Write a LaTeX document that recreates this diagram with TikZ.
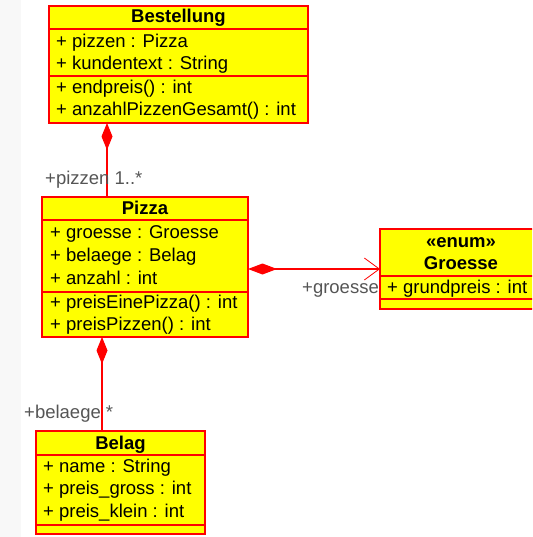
\documentclass[tikz,border=0pt]{standalone}
\usepackage{fontspec}
\setmainfont{Liberation Sans}
\usetikzlibrary{arrows.meta}
\definecolor{umlred}{RGB}{255,0,0}
\definecolor{umlyel}{RGB}{255,255,0}
\definecolor{lbl}{RGB}{85,85,85}
\definecolor{band}{RGB}{248,248,248}
\begin{document}
\begin{tikzpicture}[x=1pt,y=-1pt,
 cls/.style={draw=umlred, fill=umlyel, line width=1.2pt, inner sep=0pt, outer sep=0pt, anchor=north west},
 div/.style={draw=umlred, line width=1.2pt},
 txt/.style={anchor=base west, inner sep=0pt, font=\fontsize{18.5}{22}\selectfont},
 ttl/.style={anchor=base, inner sep=0pt, font=\fontsize{18.5}{22}\selectfont\bfseries},
 lab/.style={anchor=base west, inner sep=0pt, text=lbl, font=\fontsize{18.5}{22}\selectfont},
 conn/.style={draw=umlred, line width=1.2pt},
]
\useasboundingbox (0,0) rectangle (532,537);
\clip (0,0) rectangle (532,537);
\fill[band] (0,0) rectangle (21,537);

% Bestellung
\node[cls, minimum width=259pt, minimum height=117pt] (best) at (49,6) {};
\draw[div] (49,29) -- (308,29);
\draw[div] (49,76) -- (308,76);
\node[ttl] (bt) at (178.5,23) {Bestellung};
\node[txt] (b1) at (56,48) {+ pizzen : Pizza};
\node[txt] (b2) at (56,70) {+ kundentext : String};
\node[txt] (b3) at (56,94) {+ endpreis() : int};
\node[txt] (b4) at (56,116) {+ anzahlPizzenGesamt() : int};

% Pizza
\node[cls, minimum width=206pt, minimum height=140pt] (pizza) at (42,197) {};
\draw[div] (42,220) -- (248,220);
\draw[div] (42,292) -- (248,292);
\node[ttl] (pt) at (145,214) {Pizza};
\node[txt] (p1) at (50,238) {+ groesse : Groesse};
\node[txt] (p2) at (50,261) {+ belaege : Belag};
\node[txt] (p3) at (50,284) {+ anzahl : int};
\node[txt] (p4) at (50,308) {+ preisEinePizza() : int};
\node[txt] (p5) at (50,330) {+ preisPizzen() : int};

% Groesse
\node[cls, minimum width=162pt, minimum height=80pt] (gro) at (380,229) {};
\draw[div] (380,276) -- (542,276);
\draw[div] (380,299) -- (542,299);
\node[ttl] (gt1) at (461,247) {«enum»};
\node[ttl] (gt2) at (461,269) {Groesse};
\node[txt] (g1) at (387,293) {+ grundpreis : int};

% Belag
\node[cls, minimum width=169pt, minimum height=103pt] (belag) at (36,431) {};
\draw[div] (36,455) -- (205,455);
\draw[div] (36,525) -- (205,525);
\node[ttl] (lt) at (120.5,449) {Belag};
\node[txt] (l1) at (43,472) {+ name : String};
\node[txt] (l2) at (43,494) {+ preis\_gross : int};
\node[txt] (l3) at (43,517) {+ preis\_klein : int};

% connectors
\draw[conn, {Diamond[length=27pt,width=11pt]}-] ([xshift=58pt]best.south west) -- ([xshift=65pt]pizza.north west);
\draw[conn, {Diamond[length=29pt,width=11pt]}-{Straight Barb[length=15pt,width=22pt,line width=0.8pt]}] (pizza.east |- gro.west) -- (gro.west);
\draw[conn, {Diamond[length=27pt,width=11pt]}-] ([xshift=60pt]pizza.south west) -- ([xshift=66pt]belag.north west);

% labels
\node[lab] (lab1) at (45,185) {+pizzen 1..*};
\node[lab] (lab2) at (302,293) {+groesse};
\node[lab] (lab3) at (24,418) {+belaege *};
\end{tikzpicture}
\end{document}
